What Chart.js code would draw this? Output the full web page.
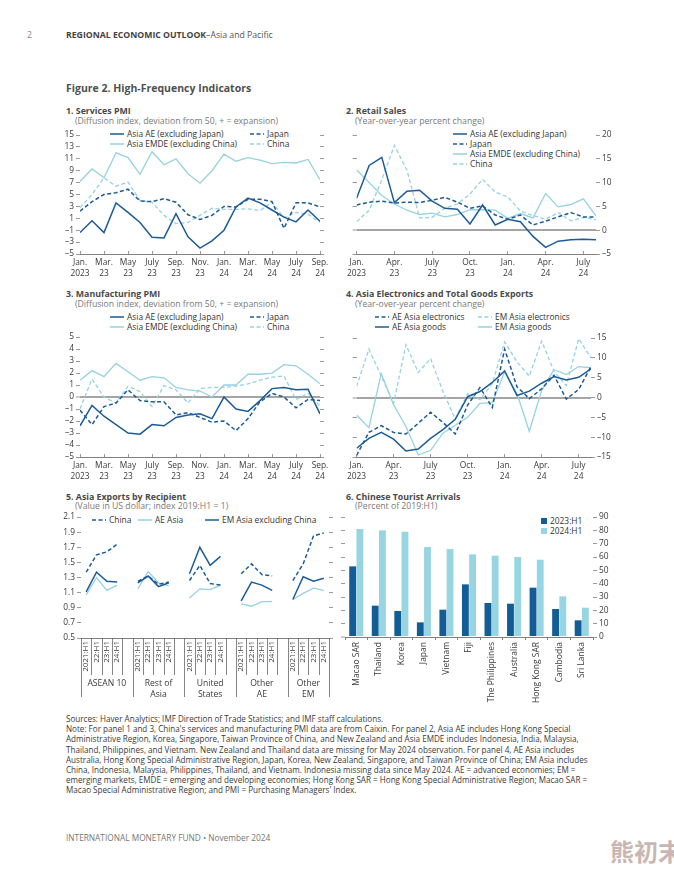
<!DOCTYPE html>
<html><head><meta charset="utf-8">
<script src="https://cdn.jsdelivr.net/npm/chart.js@4.4.1/dist/chart.umd.min.js"></script>
<style>
body{margin:0;width:674px;height:874px;background:#fff;position:relative;font-family:'Open Sans','Noto Sans',sans-serif;overflow:hidden}
.abs{position:absolute;white-space:nowrap;line-height:12px}
canvas{position:absolute}
.t{font-weight:700;font-size:8.8px;color:#4a4a4a}
.s{font-size:8.7px;color:#7a7a7a}
.lg{position:absolute;font-size:8.4px;color:#333;white-space:nowrap;line-height:10px;height:10px}
.lg svg{vertical-align:middle;margin-right:3px;position:relative;top:-1px}
.note{position:absolute;left:66px;top:714px;font-size:8.1px;line-height:10.2px;color:#3a3a3a;white-space:nowrap}
</style></head>
<body>
<div class="abs" style="left:27px;top:29px;font-size:8.7px;color:#888">2</div>
<div class="abs" style="left:66px;top:29px;font-size:8.7px;color:#555"><b style="color:#444">REGIONAL ECONOMIC OUTLOOK</b>–Asia and Pacific</div>
<div class="abs" style="left:66px;top:82px;font-size:10.5px;font-weight:700;color:#505050">Figure 2. High-Frequency Indicators</div>

<div class="abs t" style="left:66px;top:105px">1. Services PMI</div>
<div class="abs s" style="left:75px;top:115px">(Diffusion index, deviation from 50, + = expansion)</div>
<div class="abs t" style="left:346px;top:105px">2. Retail Sales</div>
<div class="abs s" style="left:355px;top:115px">(Year-over-year percent change)</div>
<div class="abs t" style="left:66px;top:288px">3. Manufacturing PMI</div>
<div class="abs s" style="left:75px;top:298px">(Diffusion index, deviation from 50, + = expansion)</div>
<div class="abs t" style="left:346px;top:288px">4. Asia Electronics and Total Goods Exports</div>
<div class="abs s" style="left:355px;top:298px">(Year-over-year percent change)</div>
<div class="abs t" style="left:66px;top:491px">5. Asia Exports by Recipient</div>
<div class="abs s" style="left:75px;top:500px">(Value in US dollar; index 2019:H1 = 1)</div>
<div class="abs t" style="left:346px;top:491px">6. Chinese Tourist Arrivals</div>
<div class="abs s" style="left:355px;top:500px">(Percent of 2019:H1)</div>

<div id="legends"></div>

<div class="note">Sources: Haver Analytics; IMF Direction of Trade Statistics; and IMF staff calculations.<br>
Note: For panel 1 and 3, China's services and manufacturing PMI data are from Caixin. For panel 2, Asia AE includes Hong Kong Special<br>
Administrative Region, Korea, Singapore, Taiwan Province of China, and New Zealand and Asia EMDE includes Indonesia, India, Malaysia,<br>
Thailand, Philippines, and Vietnam. New Zealand and Thailand data are missing for May 2024 observation. For panel 4, AE Asia includes<br>
Australia, Hong Kong Special Administrative Region, Japan, Korea, New Zealand, Singapore, and Taiwan Province of China; EM Asia includes<br>
China, Indonesia, Malaysia, Philippines, Thailand, and Vietnam. Indonesia missing data since May 2024. AE = advanced economies; EM =<br>
emerging markets, EMDE = emerging and developing economies; Hong Kong SAR = Hong Kong Special Administrative Region; Macao SAR =<br>
Macao Special Administrative Region; and PMI = Purchasing Managers' Index.</div>

<div class="abs" style="left:66px;top:832px;font-size:8.3px;color:#777">INTERNATIONAL MONETARY FUND <span style="color:#3aa6b9">•</span> November 2024</div>
<div class="abs" style="left:610px;top:836px;font-size:24px;line-height:30px;font-weight:700;color:#c9b6b2;font-family:'Noto Sans CJK SC',sans-serif">熊初末</div>

<script>
// ---------------- DATA ----------------
const monthsPMI = ['Jan 2023','Feb 2023','Mar 2023','Apr 2023','May 2023','Jun 2023','Jul 2023','Aug 2023','Sep 2023','Oct 2023','Nov 2023','Dec 2023','Jan 2024','Feb 2024','Mar 2024','Apr 2024','May 2024','Jun 2024','Jul 2024','Aug 2024','Sep 2024'];
const pmiTickLabels = [['Jan.','2023'],['Mar.','23'],['May','23'],['July','23'],['Sep.','23'],['Nov.','23'],['Jan.','24'],['Mar.','24'],['May','24'],['July','24'],['Sep.','24']];
const monthsYoY = monthsPMI.slice(0, 20);
const yoyTickLabels = [['Jan.','2023'],['Apr.','23'],['July','23'],['Oct.','23'],['Jan.','24'],['Apr.','24'],['July','24']];

const servicesAsiaAE   = [-1.4,0.6,-1.4,3.6,2.0,0.3,-2.2,-2.3,1.8,-2.1,-4.0,-2.8,-1.0,2.9,4.4,3.6,2.4,1.2,0.4,2.4,0.5];
const servicesJapan    = [2.2,3.8,5.0,5.3,5.9,3.9,3.8,4.3,3.7,1.6,0.8,1.5,3.0,2.9,4.2,4.2,3.8,-0.7,3.6,3.6,2.9];
const servicesAsiaEMDE = [7.2,9.3,7.8,12.0,11.2,8.4,12.2,10.0,11.0,8.5,6.9,9.0,11.8,10.6,11.2,10.8,10.2,10.4,10.3,10.9,7.5];
const servicesChina    = [2.8,5.0,7.8,6.4,7.1,4.0,3.7,1.5,0.1,0.3,1.5,2.7,2.5,2.5,2.6,2.3,3.7,1.1,2.0,1.7,0.3];

const retailAsiaAE   = [6.7,13.6,15.3,5.8,8.2,8.4,6.1,4.6,4.4,1.3,5.3,1.1,2.3,1.8,-1.3,-3.6,-2.3,-2.0,-1.9,-2.0];
const retailJapan    = [5.3,5.9,6.1,5.7,5.9,5.8,6.3,6.9,5.9,4.6,5.1,3.2,2.3,3.2,1.1,1.9,2.8,3.7,2.8,2.8];
const retailAsiaEMDE = [12.7,10.0,7.3,5.5,4.2,3.3,3.6,2.8,3.3,4.3,4.3,4.2,2.5,3.5,2.6,7.7,4.9,5.4,6.6,3.0];
const retailChina    = [1.8,4.2,10.6,17.8,12.6,2.6,2.7,4.6,5.5,7.6,10.7,8.0,7.0,4.0,3.1,2.3,3.7,2.0,2.7,2.2];

const mfgAsiaAE   = [-2.4,-0.7,-1.6,-2.3,-3.0,-3.1,-2.3,-2.4,-1.7,-1.5,-1.4,-1.8,0.0,-1.0,-1.2,-0.3,0.7,0.8,0.6,0.65,-1.4];
const mfgJapan    = [-1.1,-2.3,-0.8,-0.5,0.6,-0.3,-0.4,-0.4,-1.5,-1.3,-1.7,-2.1,-2.0,-2.8,-1.8,-0.4,0.3,0.0,-0.9,-0.2,-0.3];
const mfgAsiaEMDE = [1.4,2.2,1.7,2.8,2.1,1.4,1.7,1.6,0.8,0.6,0.5,0.0,1.0,1.0,1.9,1.9,2.0,2.7,2.6,1.9,1.1];
const mfgChina    = [-1.0,1.5,0.0,-0.5,0.9,0.45,-0.8,0.95,0.6,-0.5,0.7,0.8,0.8,0.9,1.1,1.4,1.65,1.75,-0.2,0.3,-0.75];

const exportsAEElectronics = [-14.6,-8.8,-7.1,-8.8,-9.2,-6.5,-3.7,-6.3,-9.2,-1.9,2.5,-2.5,12.2,2.7,-0.3,2.2,5.6,-0.4,2.0,7.8];
const exportsAEGoods       = [-12.8,-10.3,-8.8,-10.5,-13.5,-13.0,-10.3,-8.1,-5.5,0.2,1.5,3.8,6.7,0.5,1.6,3.6,5.3,4.4,5.1,7.2];
const exportsEMElectronics = [2.8,12.2,5.4,-1.5,13.3,6.3,9.8,1.5,-5.4,1.0,-0.5,3.5,14.0,9.0,5.4,14.2,6.6,3.0,14.8,10.0];
const exportsEMGoods       = [-4.4,-7.6,6.0,-1.8,-7.3,-14.5,-13.3,-9.0,-7.0,-5.0,-1.5,-1.3,6.5,1.0,-8.5,1.8,7.0,5.8,7.8,7.5];

const recipientPeriods = ['2021:H1','22:H1','23:H1','24:H1','', '2021:H1','22:H1','23:H1','24:H1','', '2021:H1','22:H1','23:H1','24:H1','', '2021:H1','22:H1','23:H1','24:H1','', '2021:H1','22:H1','23:H1','24:H1'];
const recipientGroups = [['ASEAN 10'],['Rest of','Asia'],['United','States'],['Other','AE'],['Other','EM']];
const recipChina  = [1.37,1.60,1.64,1.74,null, 1.25,1.32,1.21,1.24,null, 1.26,1.46,1.22,1.20,null, 1.35,1.48,1.34,1.32,null, 1.26,1.48,1.85,1.89];
const recipAEAsia = [1.07,1.30,1.13,1.20,null, 1.15,1.38,1.23,1.19,null, 1.03,1.15,1.14,1.20,null, 0.95,0.92,0.98,0.98,null, 1.01,1.09,1.16,1.13];
const recipEMAsia = [1.11,1.37,1.25,1.24,null, 1.23,1.32,1.18,1.23,null, 1.35,1.70,1.46,1.58,null, 0.99,1.24,1.20,1.13,null, 1.01,1.31,1.25,1.29];

const touristDestinations = ['Macao SAR','Thailand','Korea','Japan','Vietnam','Fiji','The Philippines','Australia','Hong Kong SAR','Cambodia','Sri Lanka'];
const arrivals2023H1 = [53,23.5,19.5,11,20.5,39.5,25.5,25,37,21,12.5];
const arrivals2024H1 = [81,80,79,67.5,66,62,61,60,58,30.5,22];

// ---------------- STYLE ----------------
const DARK='#1d5b95', LIGHT='#97d2e1', BAR_D='#135d97', BAR_L='#98d5e2';
const AX='#808080', ZERO='#a5a5a5', TXT='#3a3a3a';
const DASH=[4,2.5];
Chart.defaults.font.family = "'Open Sans','Noto Sans',sans-serif";
Chart.defaults.font.size = 8.4;
Chart.defaults.color = TXT;

function makeCanvas(pos){
  const c=document.createElement('canvas');
  c.width=pos.w; c.height=pos.h;
  c.style.left=pos.left+'px'; c.style.top=pos.top+'px';
  c.style.width=pos.w+'px'; c.style.height=pos.h+'px';
  document.body.appendChild(c);
  return c;
}
const fmtNeg = v => (v<0?'–':'')+Math.abs(v);
function yAxes(pos, area, yc){
  const left = {
    position:'left', min:yc.min, max:yc.max,
    ticks:{stepSize:yc.step, autoSkip:false, padding:2, callback: yc.labels==='left'? (yc.fmt||fmtNeg) : ()=>'' },
    grid:{color: ctx => (yc.zero && ctx.tick && ctx.tick.value===0)?ZERO:'rgba(0,0,0,0)',
          lineWidth: ctx => (ctx.tick && ctx.tick.value===0)?2:1, tickColor:AX, tickLength:4, tickWidth:0.8},
    border:{display:false},
    afterFit: s => { s.width = area.L - pos.left; }
  };
  const right = {
    position:'right', min:yc.min, max:yc.max,
    ticks:{stepSize:yc.step, autoSkip:false, padding:2, callback: yc.labels==='right'? (yc.fmt||fmtNeg) : ()=>'' },
    grid:{drawOnChartArea:false, tickColor:AX, tickLength:4, tickWidth:0.8},
    border:{display:false},
    afterFit: s => { s.width = pos.left + pos.w - area.R; }
  };
  return {y:left, y2:right};
}
function lineChart(pos, area, n, step, tickLabels, yc, series){
  const cv = makeCanvas(pos);
  const ya = yAxes(pos, area, yc);
  return new Chart(cv, {
    type:'line',
    data:{ datasets: series.map(s => ({
      data: s.values.map((v,i)=>({x:i,y:v})),
      borderColor:s.color, borderWidth:s.width||1.4, borderDash:s.dash?DASH:[],
      pointRadius:0, tension:0, fill:false, yAxisID:'y'
    })) },
    options:{
      responsive:false, animation:false, devicePixelRatio:1,
      layout:{padding:{top: area.T - pos.top, left:0, right:0, bottom:0}},
      plugins:{legend:{display:false}, tooltip:{enabled:false}},
      scales:{
        x:{ type:'linear', min:0, max:n-1,
            afterBuildTicks: s => { s.ticks = s.ticks.filter(t => Math.abs(t.value % step) < 1e-9); },
            ticks:{stepSize:step, includeBounds:false, autoSkip:false, maxRotation:0, minRotation:0, padding:7,
                   callback: v => tickLabels[Math.round(v/step)]},
            grid:{drawOnChartArea:false, tickLength:-3, color:AX, tickWidth:0.8},
            border:{color:AX, width:1},
            afterFit: s => { s.height = pos.top + pos.h - area.B; } },
        y: ya.y, y2: ya.y2
      }
    }
  });
}

// Panel 1
lineChart({left:60,top:128,w:280,h:160},{L:80,R:320,T:134,B:254}, monthsPMI.length, 2, pmiTickLabels,
  {min:-5,max:15,step:2,labels:'left',zero:true},
  [{values:servicesAsiaAE,color:DARK,width:1.5},{values:servicesJapan,color:DARK,dash:true,width:1.5},
   {values:servicesAsiaEMDE,color:LIGHT,width:1.3},{values:servicesChina,color:LIGHT,dash:true,width:1.3}]);
// Panel 2
lineChart({left:340,top:128,w:280,h:160},{L:356,R:596,T:134,B:254}, monthsYoY.length, 3, yoyTickLabels,
  {min:-5,max:20,step:5,labels:'right',zero:true},
  [{values:retailAsiaAE,color:DARK,width:1.5},{values:retailJapan,color:DARK,dash:true,width:1.5},
   {values:retailAsiaEMDE,color:LIGHT,width:1.3},{values:retailChina,color:LIGHT,dash:true,width:1.3}]);
// Panel 3
lineChart({left:60,top:330,w:280,h:160},{L:80,R:320,T:337,B:457}, monthsPMI.length, 2, pmiTickLabels,
  {min:-5,max:5,step:1,labels:'left',zero:true},
  [{values:mfgAsiaAE,color:DARK,width:1.5},{values:mfgJapan,color:DARK,dash:true,width:1.5},
   {values:mfgAsiaEMDE,color:LIGHT,width:1.3},{values:mfgChina,color:LIGHT,dash:true,width:1.3}]);
// Panel 4
lineChart({left:340,top:330,w:280,h:160},{L:356,R:591,T:338,B:457}, monthsYoY.length, 3, yoyTickLabels,
  {min:-15,max:15,step:5,labels:'right',zero:true},
  [{values:exportsAEGoods,color:DARK,width:1.5},{values:exportsAEElectronics,color:DARK,dash:true,width:1.5},
   {values:exportsEMGoods,color:LIGHT,width:1.3},{values:exportsEMElectronics,color:LIGHT,dash:true,width:1.3}]);

// Panel 5
(function(){
  const pos={left:60,top:510,w:280,h:200}, area={L:81,R:329,T:517,B:638};
  const cv = makeCanvas(pos);
  const ya = yAxes(pos, area, {min:0.5,max:2.1,step:0.2,labels:'left',zero:false, fmt:v=>v.toFixed(1)});
  const sep = { id:'sep', afterDraw(chart){
    const xs=chart.scales.x, a=chart.chartArea, ctx=chart.ctx;
    const x0=xs.getPixelForValue(0), w=xs.getPixelForValue(1)-x0;
    ctx.save(); ctx.strokeStyle='#666'; ctx.lineWidth=0.8;
    for(let i=0;i<=recipientPeriods.length;i++){
      const x=Math.round(x0+(i-0.5)*w)+0.5;
      const grp=(i%5===0)||i===recipientPeriods.length;
      ctx.beginPath(); ctx.moveTo(x,a.bottom); ctx.lineTo(x,a.bottom+(grp?59:37)); ctx.stroke();
    }
    ctx.fillStyle=TXT; ctx.font="8.6px 'Open Sans','Noto Sans',sans-serif"; ctx.textAlign='center'; ctx.textBaseline='middle';
    recipientGroups.forEach((g,k)=>{
      const l=x0+(5*k-0.5)*w, r=x0+(Math.min(5*k+5,recipientPeriods.length)-0.5)*w;
      g.forEach((line,j)=>ctx.fillText(line,(l+r)/2,a.bottom+46+j*11));
    });
    ctx.restore();
  }};
  new Chart(cv,{
    type:'line',
    data:{labels:recipientPeriods, datasets:[
      {data:recipEMAsia,borderColor:DARK,borderWidth:1.5,pointRadius:0,spanGaps:false},
      {data:recipChina,borderColor:DARK,borderWidth:1.5,borderDash:DASH,pointRadius:0,spanGaps:false},
      {data:recipAEAsia,borderColor:LIGHT,borderWidth:1.3,pointRadius:0,spanGaps:false}
    ]},
    options:{
      responsive:false, animation:false, devicePixelRatio:1,
      layout:{padding:{top:area.T-pos.top,left:0,right:0,bottom:0}},
      plugins:{legend:{display:false},tooltip:{enabled:false}},
      scales:{
        x:{offset:true, ticks:{autoSkip:false,minRotation:90,maxRotation:90,padding:3,font:{size:8}},
           grid:{display:false,drawTicks:false}, border:{color:AX,width:1},
           afterFit:s=>{s.height=pos.top+pos.h-area.B;}},
        y:ya.y, y2:ya.y2
      }
    },
    plugins:[sep]
  });
})();

// Panel 6
(function(){
  const pos={left:340,top:510,w:280,h:200}, area={L:345,R:593,T:517,B:637};
  const cv = makeCanvas(pos);
  const ya = yAxes(pos, area, {min:0,max:90,step:10,labels:'right',zero:false});
  ya.y.grid.color='rgba(0,0,0,0)';
  new Chart(cv,{
    type:'bar',
    data:{labels:touristDestinations, datasets:[
      {data:arrivals2023H1,backgroundColor:BAR_D,categoryPercentage:0.64,barPercentage:0.95},
      {data:arrivals2024H1,backgroundColor:BAR_L,categoryPercentage:0.64,barPercentage:0.95}
    ]},
    options:{
      responsive:false, animation:false, devicePixelRatio:1,
      layout:{padding:{top:area.T-pos.top,left:0,right:0,bottom:0}},
      plugins:{legend:{display:false},tooltip:{enabled:false}},
      scales:{
        x:{ticks:{autoSkip:false,minRotation:90,maxRotation:90,padding:2,font:{size:8.5}},
           grid:{drawOnChartArea:false,tickLength:3,color:AX,offset:true}, border:{color:AX,width:1},
           afterFit:s=>{s.height=pos.top+pos.h-area.B;}},
        y:ya.y, y2:ya.y2
      }
    }
  });
})();

// ---------------- LEGENDS ----------------
const legendItems = [
  [110,134,'Asia AE (excluding Japan)',DARK,false],[250,134,'Japan',DARK,true],
  [110,144,'Asia EMDE (excluding China)',LIGHT,false],[250,144,'China',LIGHT,true],
  [453,134,'Asia AE (excluding Japan)',DARK,false],[453,144,'Japan',DARK,true],
  [453,154,'Asia EMDE (excluding China)',LIGHT,false],[453,164,'China',LIGHT,true],
  [110,317,'Asia AE (excluding Japan)',DARK,false],[250,317,'Japan',DARK,true],
  [110,327,'Asia EMDE (excluding China)',LIGHT,false],[250,327,'China',LIGHT,true],
  [375,317,'AE Asia electronics',DARK,true],[478,317,'EM Asia electronics',LIGHT,true],
  [375,327,'AE Asia goods',DARK,false],[478,327,'EM Asia goods',LIGHT,false],
  [92,520,'China',DARK,true],[138,520,'AE Asia',LIGHT,false],[205,520,'EM Asia excluding China',DARK,false]
];
const lg=document.getElementById('legends');
legendItems.forEach(([x,y,label,color,dash])=>{
  const d=document.createElement('div'); d.className='lg';
  d.style.left=x+'px'; d.style.top=(y-5)+'px';
  const w=14;
  d.innerHTML=`<svg width="${w}" height="6"><line x1="0" y1="3" x2="${w}" y2="3" stroke="${color}" stroke-width="1.5" ${dash?'stroke-dasharray="4 2.5"':''}/></svg>${label}`;
  lg.appendChild(d);
});
[[541,521,'2023:H1',BAR_D],[541,531,'2024:H1',BAR_L]].forEach(([x,y,label,color])=>{
  const d=document.createElement('div'); d.className='lg';
  d.style.left=x+'px'; d.style.top=(y-5)+'px';
  d.innerHTML=`<span style="display:inline-block;width:6px;height:6px;background:${color};margin-right:3px;vertical-align:middle;position:relative;top:-1px"></span>${label}`;
  lg.appendChild(d);
});
</script>
</body></html>
